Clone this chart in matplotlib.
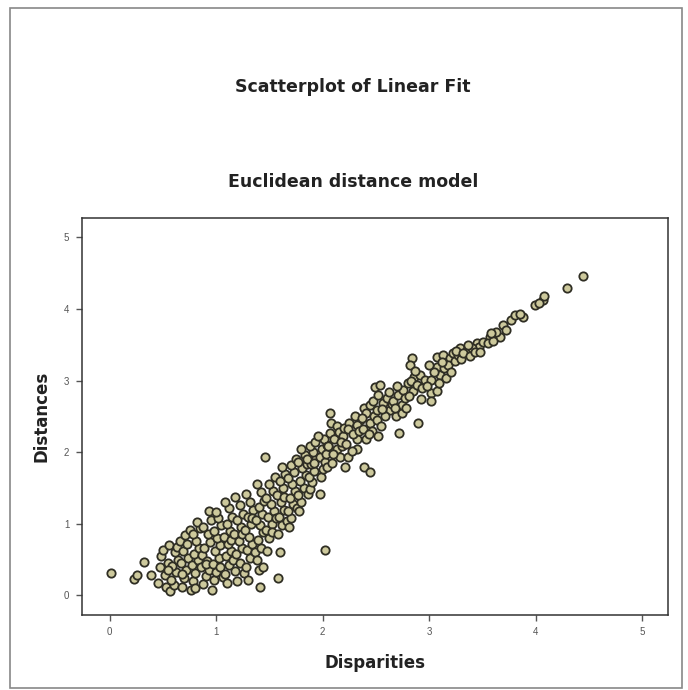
import matplotlib
matplotlib.use("Agg")
import matplotlib.pyplot as plt
from matplotlib.patches import Rectangle

plt.rcParams['font.family'] = ['Liberation Sans', 'DejaVu Sans']

# values
disparities = [
    0.01, 0.23, 0.26, 0.32, 0.39, 0.45, 0.47, 0.48, 0.50, 0.52, 0.53, 0.55, 0.56,
    0.57, 0.60, 0.58, 0.62, 0.59, 0.64, 0.61, 0.63, 0.66, 0.55,
    0.68, 0.70, 0.72, 0.67, 0.74, 0.69, 0.73, 0.71, 0.75, 0.76, 0.68,
    0.78, 0.80, 0.77, 0.83, 0.79, 0.84, 0.81, 0.78, 0.85, 0.82, 0.86, 0.80,
    0.88, 0.90, 0.87, 0.93, 0.91, 0.89, 0.94, 0.92, 0.88, 0.95, 0.93, 0.96, 0.90,
    0.98, 1.00, 0.97, 1.03, 0.99, 1.04, 1.01, 0.98, 1.05, 1.02, 1.00, 1.04, 1.06,
    1.10, 1.08, 1.12, 1.09, 1.14, 1.11, 1.07, 1.13, 1.10, 1.15, 1.12, 1.08, 1.16, 1.14,
    1.20, 1.18, 1.22, 1.19, 1.24, 1.21, 1.17, 1.23, 1.20, 1.25, 1.22, 1.18, 1.26, 1.24,
    1.30, 1.28, 1.32, 1.29, 1.34, 1.31, 1.27, 1.33, 1.30, 1.35, 1.32, 1.28, 1.36, 1.34,
    1.41, 1.40, 1.38, 1.42, 1.39, 1.44, 1.41, 1.37, 1.43, 1.40, 1.45, 1.42, 1.38, 1.46, 1.44,
    1.48, 1.50, 1.47, 1.52, 1.49, 1.54, 1.51, 1.47, 1.53, 1.50, 1.55, 1.52, 1.56,
    1.58, 1.60, 1.58, 1.62, 1.59, 1.64, 1.61, 1.57, 1.63, 1.60, 1.65, 1.62, 1.66, 1.64,
    1.68, 1.70, 1.67, 1.72, 1.69, 1.74, 1.71, 1.67, 1.73, 1.70, 1.75, 1.76,
    1.78, 1.80, 1.77, 1.82, 1.79, 1.84, 1.81, 1.77, 1.83, 1.80, 1.86, 1.85,
    1.88, 1.90, 1.87, 1.92, 1.89, 1.94, 1.91, 1.88, 1.93, 1.85, 1.92, 1.97,
    1.98, 2.00, 1.97, 2.02, 1.99, 2.04, 2.01, 2.05, 2.04, 2.02, 1.96, 2.03,
    2.07, 2.08, 2.13, 2.07, 2.11, 2.05, 2.13, 2.18, 2.16, 2.09, 2.15, 2.19, 2.17, 2.10, 2.20,
    2.25, 2.24, 2.21, 2.24, 2.32, 2.32, 2.35, 2.32, 2.22, 2.28, 2.30, 2.27, 2.34,
    2.39, 2.41, 2.44, 2.44, 2.38, 2.41, 2.39, 2.44, 2.48, 2.46, 2.49, 2.47, 2.43, 2.37,
    2.54, 2.52, 2.57, 2.51, 2.51, 2.55, 2.52, 2.63, 2.60, 2.58, 2.62, 2.56, 2.65,
    2.66, 2.71, 2.75, 2.69, 2.74, 2.74, 2.72, 2.80, 2.68, 2.77, 2.78, 2.70,
    2.84, 2.82, 2.86, 2.91, 2.85, 2.89, 2.83, 2.88, 2.93, 2.81, 2.92, 2.87, 2.96,
    3.02, 3.02, 3.07, 3.02, 3.07, 3.07, 3.10, 2.98, 3.04, 3.00, 3.09,
    3.13, 3.16, 3.19, 3.22, 3.29, 3.14, 3.18, 3.24, 3.27, 3.20, 3.25, 3.12, 3.30,
    3.35, 3.45, 3.47, 3.50, 3.32, 3.38, 3.40, 3.43, 3.36, 3.48,
    3.57, 3.66, 3.69, 3.77, 3.55, 3.60, 3.63, 3.72, 3.58,
    3.80, 3.88, 3.99, 4.07, 4.08, 4.29, 4.44, 3.85, 4.03,
]
distances = [
    0.32, 0.23, 0.29, 0.47, 0.29, 0.18, 0.40, 0.55, 0.64, 0.28, 0.12, 0.45, 0.70,
    0.06, 0.15, 0.22, 0.33, 0.41, 0.50, 0.60, 0.68, 0.76, 0.35,
    0.12, 0.24, 0.36, 0.45, 0.52, 0.62, 0.72, 0.84, 0.92, 0.07, 0.30,
    0.20, 0.31, 0.42, 0.50, 0.58, 0.66, 0.76, 0.86, 0.94, 1.02, 0.40, 0.10,
    0.16, 0.27, 0.56, 0.35, 0.48, 0.66, 0.74, 0.86, 0.96, 1.06, 1.18, 0.08, 0.44,
    0.22, 0.33, 0.44, 0.52, 0.62, 0.70, 0.80, 0.90, 0.98, 1.08, 1.16, 0.40, 0.26,
    0.17, 0.30, 0.42, 0.55, 0.62, 0.72, 0.82, 0.90, 1.00, 1.10, 1.22, 1.30, 0.50, 0.78,
    0.20, 0.34, 0.45, 0.58, 0.66, 0.76, 0.86, 0.95, 1.05, 1.14, 1.26, 1.38, 0.32, 0.86,
    0.22, 0.40, 0.52, 0.64, 0.72, 0.82, 0.92, 1.00, 1.10, 1.20, 1.30, 1.42, 0.60, 1.08,
    0.12, 0.36, 0.50, 0.66, 0.78, 0.88, 0.98, 1.06, 1.14, 1.24, 1.32, 1.44, 1.56, 1.94, 0.40,
    0.62, 0.80, 0.92, 1.00, 1.10, 1.18, 1.28, 1.36, 1.46, 1.56, 1.66, 0.88, 1.08,
    0.25, 0.61, 0.86, 0.98, 1.10, 1.20, 1.30, 1.40, 1.50, 1.60, 1.70, 1.80, 1.04, 1.38,
    0.96, 1.08, 1.18, 1.28, 1.36, 1.46, 1.56, 1.64, 1.72, 1.82, 1.90, 1.22,
    1.18, 1.30, 1.40, 1.50, 1.60, 1.68, 1.78, 1.86, 1.96, 2.04, 1.42, 1.84,
    1.48, 1.58, 1.66, 1.74, 1.84, 1.92, 2.00, 2.08, 2.14, 1.90, 1.85, 1.41,
    1.66, 1.76, 1.94, 1.86, 2.04, 2.10, 2.18, 2.08, 1.80, 0.64, 2.22, 1.98,
    2.55, 2.41, 2.36, 2.27, 2.18, 2.08, 2.04, 2.08, 1.94, 1.85, 2.28, 2.22, 2.14, 1.98, 2.34,
    2.41, 2.32, 1.80, 1.94, 2.04, 2.18, 2.45, 2.38, 2.12, 2.26, 2.50, 2.02, 2.30,
    2.62, 2.55, 2.66, 2.41, 2.32, 2.18, 1.80, 1.72, 2.50, 2.30, 2.91, 2.72, 2.26, 2.48,
    2.94, 2.80, 2.69, 2.59, 2.45, 2.36, 2.22, 2.59, 2.76, 2.50, 2.84, 2.60, 2.68,
    2.71, 2.80, 2.87, 2.50, 2.55, 2.66, 2.27, 2.97, 2.62, 2.76, 2.62, 2.92,
    3.32, 3.22, 3.05, 3.08, 2.85, 2.41, 3.00, 2.94, 2.90, 2.78, 2.74, 3.14, 3.01,
    3.01, 2.83, 2.85, 2.71, 3.19, 3.33, 3.08, 2.92, 3.12, 3.22, 2.96,
    3.36, 3.04, 3.32, 3.39, 3.46, 3.18, 3.22, 3.28, 3.36, 3.12, 3.42, 3.26, 3.30,
    3.43, 3.53, 3.47, 3.54, 3.38, 3.35, 3.46, 3.40, 3.50, 3.40,
    3.61, 3.61, 3.78, 3.85, 3.52, 3.56, 3.68, 3.70, 3.66,
    3.92, 3.89, 4.06, 4.13, 4.18, 4.30, 4.46, 3.93, 4.08,
]
ticks = [0, 1, 2, 3, 4, 5]

fig = plt.figure(figsize=(6.88, 6.90), dpi=100)
ax = fig.add_axes([0.119, 0.109, 0.852, 0.575])

ax.scatter(disparities, distances, s=36, facecolor='#cdc99c',
           edgecolor='#2f2e24', linewidths=1.3, zorder=3)

ax.set_xlim(-0.26, 5.24)
ax.set_ylim(-0.27, 5.27)
ax.set_xticks(ticks)
ax.set_yticks(ticks)
ax.tick_params(direction='out', length=4, width=1, color='#555555',
               labelsize=7, labelcolor='#555555', pad=5)
for sp in ax.spines.values():
    sp.set_color('#333333')
    sp.set_linewidth(1.1)

bold = dict(family=['DejaVu Sans'], fontweight='bold', color='#222222')
ax.set_xlabel('Disparities', fontsize=12, labelpad=12, **bold)
ax.set_ylabel('Distances', fontsize=12, labelpad=10, **bold)

fig.text(0.512, 0.874, 'Scatterplot of Linear Fit', ha='center', va='center',
         fontsize=12.5, **bold)
fig.text(0.513, 0.736, 'Euclidean distance model', ha='center', va='center',
         fontsize=12.5, **bold)

fig.patches.append(Rectangle((0.0145, 0.003), 0.977, 0.985, transform=fig.transFigure,
                             fill=False, edgecolor='#888888', linewidth=1.2))

fig.savefig('out.png', dpi=100)
